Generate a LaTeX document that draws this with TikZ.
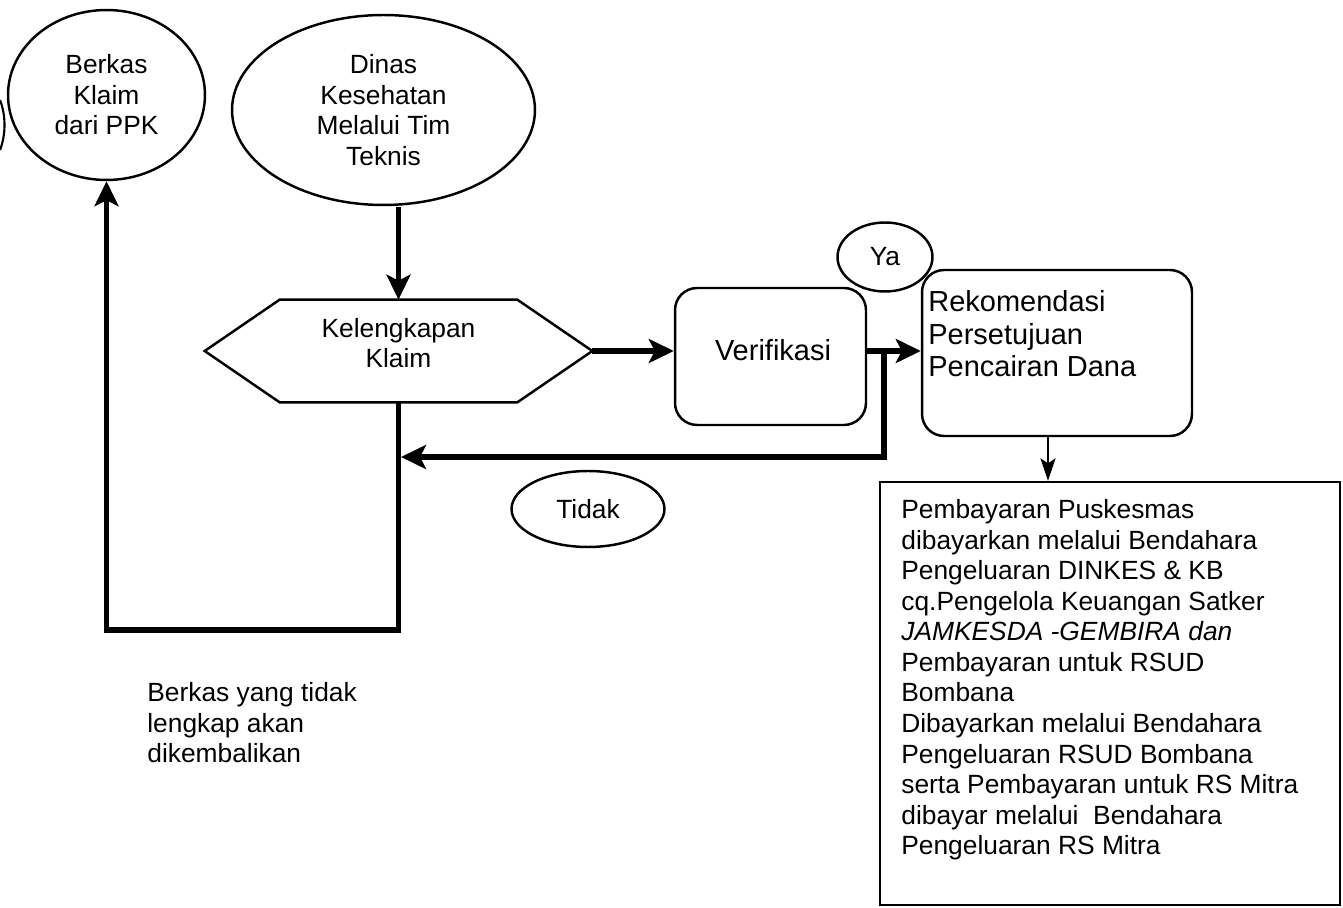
\documentclass[tikz,border=0pt]{standalone}
\usepackage{fontspec}
\setmainfont{Liberation Sans}
\usetikzlibrary{shapes.geometric,arrows.meta}
\newcommand\fsA{\fontsize{15}{17.4}\selectfont}
\newcommand\fsB{\fontsize{16.5}{18.6}\selectfont}
\tikzset{
  oval/.style={ellipse, draw, line width=1.4pt, inner sep=0pt, align=center, font=\fsA},
  rbox/.style={rectangle, rounded corners=0.44cm, draw, line width=1.4pt, inner sep=0pt},
  plainbox/.style={rectangle, draw, line width=1.3pt, inner sep=0pt},
  txt/.style={inner sep=0pt, align=left, font=\fsA},
  ctxt/.style={inner sep=0pt, align=center, font=\fsA},
  shapeline/.style={line width=1.4pt, line join=miter},
  flowline/.style={line width=3.2pt, line join=miter},
  flow/.style={flowline, -{Stealth[length=0.5cm,width=0.48cm,inset=0.12cm]}},
  thinflow/.style={line width=1.4pt, -{Stealth[length=0.45cm,width=0.3cm,inset=0.1cm]}}
}
\begin{document}
\begin{tikzpicture}[x=0.02cm, y=-0.02cm]
\useasboundingbox (0,0) rectangle (1343,908);

% nodes
\node[oval, minimum width=3.94cm, minimum height=3.4cm] (ppk) at (106.5,95) {Berkas\\Klaim\\dari PPK};
\node[oval, minimum width=6.06cm, minimum height=3.8cm] (dinas) at (383.5,110) {Dinas\\Kesehatan\\Melalui Tim\\Teknis};
\node[rectangle, inner sep=0pt, minimum width=7.74cm, minimum height=2.04cm] (hex) at (398.5,351) {};
\draw[shapeline] (hex.west) -- ([xshift=1.5cm]hex.north west) -- ([xshift=-1.5cm]hex.north east)
  -- (hex.east) -- ([xshift=-1.5cm]hex.south east) -- ([xshift=1.5cm]hex.south west) -- cycle;
\node[ctxt] (hextext) at (398.5,343) {Kelengkapan\\Klaim};
\node[rbox, minimum width=3.82cm, minimum height=2.74cm] (ver) at (770.5,356.5) {};
\node[ctxt, font=\fsB] (vertext) at (773,350) {Verifikasi};
\node[rbox, minimum width=5.4cm, minimum height=3.32cm] (rek) at (1057,353) {};
\node[txt, font=\fsB, anchor=north west] (rektext) at (928,290) {Rekomendasi\\Persetujuan\\Pencairan Dana};
\node[oval, minimum width=1.9cm, minimum height=1.38cm] (ya) at (885,257) {Ya};
\node[oval, minimum width=3.06cm, minimum height=1.52cm] (tidak) at (588,509) {Tidak};
\node[plainbox, minimum width=9.2cm, minimum height=8.46cm] (big) at (1110,693.5) {};
\node[txt, anchor=north west] (bigtext) at (901,499) {Pembayaran Puskesmas\\
dibayarkan melalui Bendahara\\
Pengeluaran DINKES \& KB\\
cq.Pengelola Keuangan Satker\\
\textit{JAMKESDA -GEMBIRA dan}\\
Pembayaran untuk RSUD\\
Bombana\\
Dibayarkan melalui Bendahara\\
Pengeluaran RSUD Bombana\\
serta Pembayaran untuk RS Mitra\\
dibayar melalui\ \ Bendahara\\
Pengeluaran RS Mitra};
\node[txt, anchor=north west] (note) at (147,682) {Berkas yang tidak\\lengkap akan\\dikembalikan};

% coordinates
\coordinate (lc) at (398.5,630);
\coordinate (j) at (884,351);
\coordinate (rt) at (401,457);

% connectors
\draw[flow] (hex.north |- 0,207) -- (hex.north);
\draw[flow] (hex.east) -- (hex.east -| ver.west);
\draw[flow] (ver.east |- hex.east) -- (hex.east -| rek.west);
\draw[flow] (j) |- (rt);
\draw[flow] (hex.south) -- (lc) -| (ppk.south);
\draw[thinflow] ([xshift=-0.18cm]rek.south) -- ([xshift=-0.18cm]rek.south |- big.north);

% partial shape at the left edge
\draw[line width=1.2pt] (0,100) .. controls (6,115) and (6,135) .. (0,150);
\end{tikzpicture}
\end{document}
